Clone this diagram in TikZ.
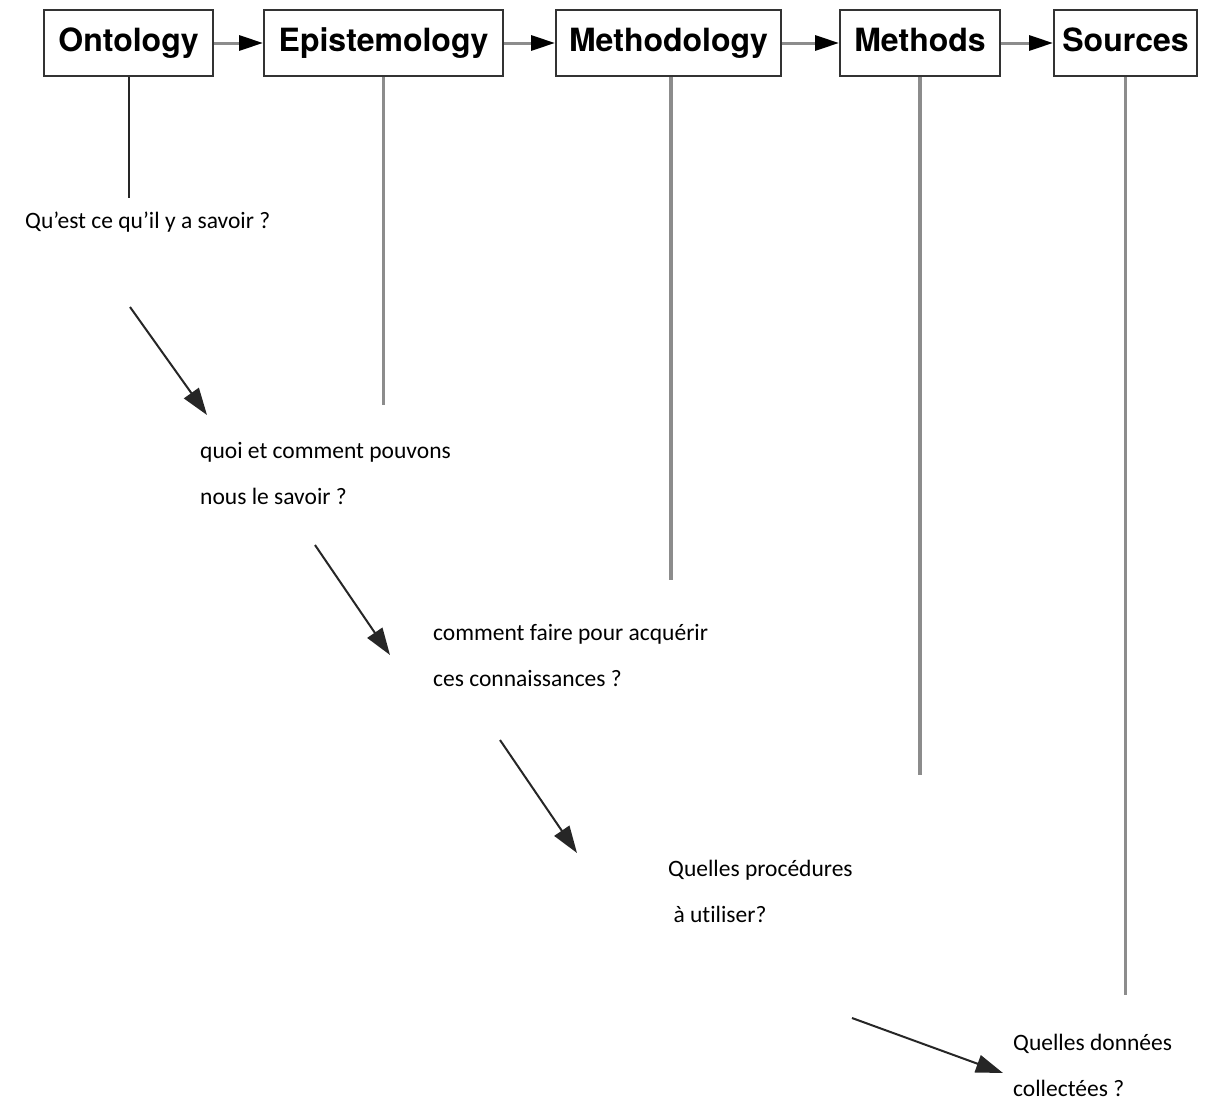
\documentclass[tikz,border=0pt]{standalone}
\usepackage{fontspec}
\newfontfamily\boxfont{TeX Gyre Heros}
\newfontfamily\qfont[Ligatures=NoCommon]{Carlito}
\usetikzlibrary{positioning,arrows.meta}

\begin{document}
\begin{tikzpicture}
   [x=1pt,y=-1pt,
    stage/.style={rectangle,draw=black!80,line width=2pt,minimum height=66pt,
     inner sep=0pt,text height=24pt,text depth=7pt,
     font=\boxfont\bfseries\fontsize{32}{38}\selectfont},
    link/.style={-{Triangle[length=24pt,width=15pt,color=black]},draw=black!45,line width=3pt},
    drop/.style={draw=black!45,line width=3.5pt},
    step arrow/.style={-{Triangle[length=27pt,width=18pt]},black!85,line width=2pt},
    question/.style={font=\qfont\fontsize{23.5}{46}\selectfont,align=left,inner sep=0pt}]

\useasboundingbox (0,0) rectangle (1205,1100);

% the five stages
\node [stage,minimum width=169pt] (ont) at (128.5,43) {Ontology};
\node [stage,minimum width=239pt,right=49pt of ont] (epi) {Epistemology};
\node [stage,minimum width=225pt,right=51pt of epi] (meth) {Methodology};
\node [stage,minimum width=160pt,right=57pt of meth] (mtd) {Methods};
\node [stage,minimum width=143pt,right=52pt of mtd] (src) {Sources};

\draw [link] (ont) -- (epi);
\draw [link] (epi) -- (meth);
\draw [link] (meth) -- (mtd);
\draw [link] (mtd) -- (src);

% hanging lines
\coordinate (ontend) at (ont.south |- 0,198);
\coordinate (epiend) at (epi.south |- 0,405);
\coordinate (methend) at (671,580);
\coordinate (mtdend) at (mtd.south |- 0,775);
\coordinate (srcend) at (src.south |- 0,995);
\draw [black!85,line width=2pt] (ont.south) -- (ontend);
\draw [drop] (epi.south) -- (epiend);
\draw [drop] (methend |- meth.south) -- (methend);
\draw [drop] (mtd.south) -- (mtdend);
\draw [drop] (src.south) -- (srcend);

% questions
\node [question,anchor=west] (q1) at (25,222) {Qu’est ce qu’il y a savoir ?};
\node [question,anchor=west] (q2) at (200,473) {quoi et comment pouvons\\nous le savoir ?};
\node [question,anchor=west] (q3) at (433,655) {comment faire pour acquérir\\ces connaissances ?};
\node [question,anchor=west] (q4) at (668,891) {Quelles procédures\\\ à utiliser?};
\node [question,anchor=west] (q5) at (1013,1065) {Quelles données\\collectées ?};

\coordinate (a1) at (130,307);  \coordinate (b1) at (207,415);
\coordinate (a2) at (315,545);  \coordinate (b2) at (390,655);
\coordinate (a3) at (500,740);  \coordinate (b3) at (577,853);
\coordinate (a4) at (852,1018); \coordinate (b4) at (1003,1073);
\foreach \i in {1,...,4}
  \draw [step arrow] (a\i) -- (b\i);
\end{tikzpicture}
\end{document}
